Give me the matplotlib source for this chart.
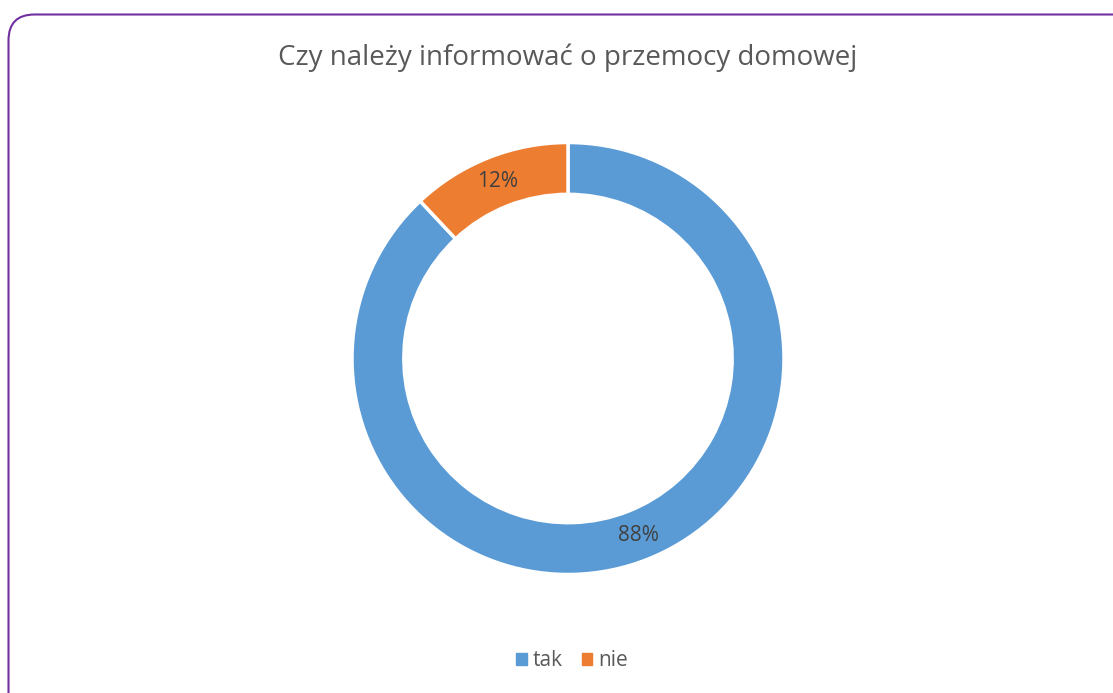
import matplotlib
matplotlib.use("Agg")
import matplotlib.pyplot as plt
import numpy as np
from matplotlib.patches import FancyBboxPatch

W, H = 1113, 693
DPI = 100

TITLE = "Czy należy informować o przemocy domowej"
categories = ["tak", "nie"]
shares = [88, 12]
colors = ["#5B9BD5", "#ED7D31"]
TEXT = "#595959"
BORDER = "#7030A0"

plt.rcParams["font.family"] = ["Open Sans", "DejaVu Sans"]

fig = plt.figure(figsize=(W / DPI, H / DPI), dpi=DPI)
fig.patch.set_facecolor("white")

# background layer in pixel units for the rounded frame and title
bg = fig.add_axes([0, 0, 1, 1])
bg.set_xlim(0, W)
bg.set_ylim(H, 0)
bg.axis("off")
frame = FancyBboxPatch((8.5, 14.5), W + 40, H + 40,
                       boxstyle="round,pad=0,rounding_size=26",
                       facecolor="white", edgecolor=BORDER, linewidth=1.5)
bg.add_patch(frame)
bg.text(568, 58, TITLE, ha="center", va="center", fontsize=20, color=TEXT)

# donut
cx, cy, r = 568, 358.5, 216
ax = fig.add_axes([(cx - r) / W, (H - cy - r) / H, 2 * r / W, 2 * r / H])
wedges, texts = ax.pie(shares, colors=colors, startangle=90, counterclock=False,
                       radius=1.0,
                       wedgeprops=dict(width=0.24, edgecolor="white", linewidth=2.5))
ax.set_xlim(-1, 1)
ax.set_ylim(-1, 1)
ax.set_aspect("equal")
ax.axis("off")

# data labels on the ring
for w, s in zip(wedges, shares):
    ang = np.deg2rad((w.theta1 + w.theta2) / 2)
    rr = 0.88
    ax.text(rr * np.cos(ang), rr * np.sin(ang), f"{s}%", ha="center", va="center",
            fontsize=15, color="#404040")

# legend
handles = [plt.Rectangle((0, 0), 1, 1, color=c) for c in colors]
fig.legend(handles, categories, loc="center", bbox_to_anchor=(572 / W, 1 - 661 / H),
           ncol=2, frameon=False, fontsize=15, handlelength=0.5, handleheight=0.5,
           handletextpad=0.3, columnspacing=0.9, labelcolor=TEXT)

fig.savefig("out.png", dpi=DPI)
